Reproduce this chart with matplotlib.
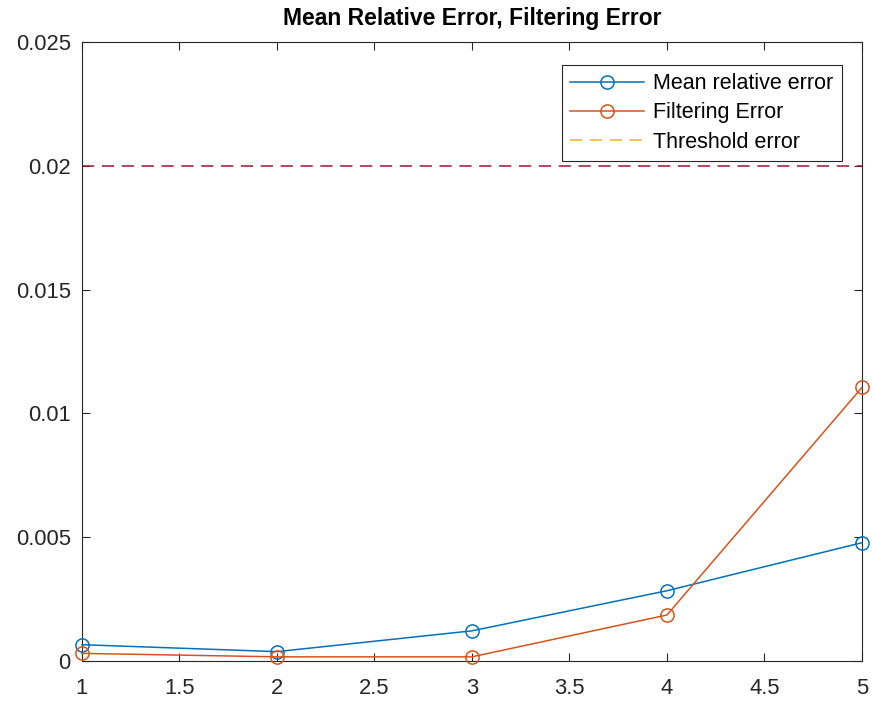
import matplotlib.pyplot as plt
from matplotlib.lines import Line2D

plt.rcParams['font.family'] = ['Liberation Sans', 'DejaVu Sans']

# data
steps = [1, 2, 3, 4, 5]
mean_rel_err = [0.00066, 0.00038, 0.00122, 0.00284, 0.00478]
filter_err = [0.00031, 0.00017, 0.00017, 0.00186, 0.01105]
threshold = 0.02

blue = '#0072BD'
orange = '#D95319'
yellow = '#EDB120'
darkred = '#A2142F'
axcol = '#262626'

fig = plt.figure(figsize=(8.72, 7.01), dpi=100)
ax = fig.add_axes([0.094, 0.057, 0.8945, 0.883])

ax.plot(steps, mean_rel_err, '-o', color=blue, lw=1.1, ms=9.5, mfc='none', mew=1.1, clip_on=False, zorder=3)
ax.plot(steps, filter_err, '-o', color=orange, lw=1.1, ms=9.5, mfc='none', mew=1.1, clip_on=False, zorder=3)
ax.axhline(threshold, color=darkred, lw=1.1, ls=(0, (8, 5)))

ax.set_xlim(1, 5)
ax.set_ylim(0, 0.025)
ax.set_xticks([1, 1.5, 2, 2.5, 3, 3.5, 4, 4.5, 5])
ax.set_xticklabels(['1', '1.5', '2', '2.5', '3', '3.5', '4', '4.5', '5'])
ax.set_yticks([0, 0.005, 0.01, 0.015, 0.02, 0.025])
ax.set_yticklabels(['0', '0.005', '0.01', '0.015', '0.02', '0.025'])
ax.tick_params(direction='in', top=True, right=True, length=6, width=0.8,
               colors=axcol, labelsize=15.8)
ax.tick_params(axis='x', pad=12)
ax.tick_params(axis='y', pad=8)
for sp in ax.spines.values():
    sp.set_color(axcol)
    sp.set_linewidth(0.8)

ax.set_title('Mean Relative Error, Filtering Error', fontsize=16.5, fontweight='bold', pad=12)

handles = [
    Line2D([], [], color=blue, lw=1.1, marker='o', ms=9.5, mfc='none', mew=1.1),
    Line2D([], [], color=orange, lw=1.1, marker='o', ms=9.5, mfc='none', mew=1.1),
    Line2D([], [], color=yellow, lw=1.1, ls=(0, (8, 5))),
]
leg = ax.legend(handles, ['Mean relative error', 'Filtering Error', 'Threshold error'],
                loc='upper right', bbox_to_anchor=(0.974, 0.963), borderaxespad=0,
                fontsize=15.5, fancybox=False, framealpha=1, edgecolor=axcol,
                handlelength=3.4, handletextpad=0.45, borderpad=0.38, labelspacing=0.38)
leg.get_frame().set_linewidth(0.8)

fig.savefig('out.png', dpi=100)
